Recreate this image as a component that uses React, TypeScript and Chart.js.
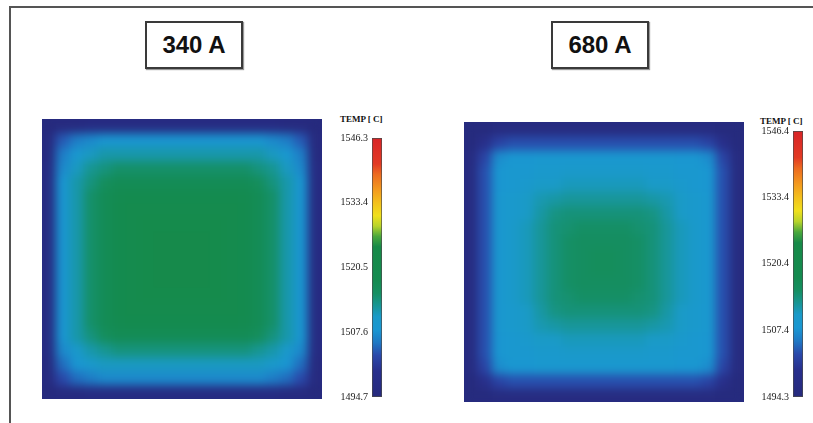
import React, { useEffect, useRef } from "react";
import { Chart, registerables } from "chart.js";

Chart.register(...registerables);

// ---------- data ----------
const PANEL_TITLES = ["340 A", "680 A"];
const COLORBAR_TITLE = "TEMP [ C]";

const LEFT_RANGE = [1494.7, 1546.3];
const RIGHT_RANGE = [1494.3, 1546.4];
const LEFT_TICKS = [1494.7, 1507.6, 1520.5, 1533.4, 1546.3];
const RIGHT_TICKS = [1494.3, 1507.4, 1520.4, 1533.4, 1546.4];

// temperature field, 340 A (rows top -> bottom, columns left -> right)
const LEFT_TEMPS: number[][] = [
  [1495,1496,1496,1497,1497,1497,1497,1497,1497,1497,1497,1497,1497,1497,1497,1497,1497,1496,1496,1495],
  [1496,1504,1506,1507,1508,1508,1508,1508,1508,1508,1508,1508,1508,1508,1508,1508,1507,1506,1504,1496],
  [1496,1506,1509,1511,1512,1512,1512,1512,1512,1512,1512,1512,1512,1512,1512,1512,1511,1509,1506,1496],
  [1497,1507,1511,1513,1514,1515,1515,1515,1515,1515,1515,1515,1515,1515,1515,1514,1513,1511,1507,1497],
  [1497,1508,1512,1514,1516,1517,1517,1517,1517,1517,1517,1517,1517,1517,1517,1516,1514,1512,1508,1497],
  [1497,1508,1512,1515,1517,1518,1519,1519,1519,1519,1519,1519,1519,1519,1518,1517,1515,1512,1508,1497],
  [1497,1508,1512,1515,1517,1519,1520,1520,1520,1520,1520,1520,1520,1520,1519,1517,1515,1512,1508,1497],
  [1497,1508,1512,1515,1517,1519,1520,1521,1521,1521,1521,1521,1521,1520,1519,1517,1515,1512,1508,1497],
  [1497,1508,1512,1515,1517,1519,1520,1521,1522,1522,1522,1522,1521,1520,1519,1517,1515,1512,1508,1497],
  [1497,1508,1512,1515,1517,1519,1520,1521,1522,1522,1522,1522,1521,1520,1519,1517,1515,1512,1508,1497],
  [1497,1508,1512,1515,1517,1519,1520,1521,1522,1522,1522,1522,1521,1520,1519,1517,1515,1512,1508,1497],
  [1497,1508,1512,1515,1517,1519,1520,1521,1522,1522,1522,1522,1521,1520,1519,1517,1515,1512,1508,1497],
  [1497,1508,1512,1515,1517,1519,1520,1521,1521,1521,1521,1521,1521,1520,1519,1517,1515,1512,1508,1497],
  [1497,1508,1512,1515,1517,1519,1520,1520,1520,1520,1520,1520,1520,1520,1519,1517,1515,1512,1508,1497],
  [1497,1508,1512,1515,1517,1518,1519,1519,1519,1519,1519,1519,1519,1519,1518,1517,1515,1512,1508,1497],
  [1497,1508,1512,1514,1516,1517,1517,1517,1517,1517,1517,1517,1517,1517,1517,1516,1514,1512,1508,1497],
  [1497,1507,1510,1512,1513,1514,1514,1514,1514,1514,1514,1514,1514,1514,1514,1513,1512,1510,1507,1497],
  [1496,1505,1508,1510,1511,1511,1511,1511,1511,1511,1511,1511,1511,1511,1511,1511,1510,1508,1505,1496],
  [1496,1503,1505,1506,1507,1507,1507,1507,1507,1507,1507,1507,1507,1507,1507,1507,1506,1505,1503,1496],
  [1495,1496,1496,1497,1497,1497,1497,1497,1497,1497,1497,1497,1497,1497,1497,1497,1497,1496,1496,1495],
];

// temperature field, 680 A
const RIGHT_TEMPS: number[][] = [
  [1495,1495,1496,1496,1496,1496,1496,1496,1496,1496,1496,1496,1496,1496,1496,1496,1496,1496,1495,1495],
  [1495,1499,1502,1503,1503,1503,1503,1503,1503,1503,1503,1503,1503,1503,1503,1503,1503,1502,1499,1495],
  [1496,1502,1507,1508,1508,1508.5,1508.5,1508.5,1508.5,1508.5,1508.5,1508.5,1508.5,1508.5,1508.5,1508,1508,1507,1502,1496],
  [1496,1503,1508,1508.5,1508.5,1509.5,1509.5,1510,1510,1510,1510,1510,1510,1509.5,1509.5,1508.5,1508.5,1508,1503,1496],
  [1496,1503,1508,1508.5,1509.5,1510.5,1510.5,1511,1511,1511,1511,1511,1511,1510.5,1510.5,1509.5,1508.5,1508,1503,1496],
  [1496,1503,1508.5,1509.5,1510.5,1511.5,1512,1512.5,1512.5,1512.5,1512.5,1512.5,1512.5,1512,1511.5,1510.5,1509.5,1508.5,1503,1496],
  [1496,1503,1508.5,1509.5,1510.5,1512,1513.5,1514,1514,1514,1514,1514,1514,1513.5,1512,1510.5,1509.5,1508.5,1503,1496],
  [1496,1503,1508.5,1510,1511,1512.5,1514,1514.5,1515,1515,1515,1515,1514.5,1514,1512.5,1511,1510,1508.5,1503,1496],
  [1496,1503,1508.5,1510,1511,1512.5,1514,1515,1515.5,1515.5,1515.5,1515.5,1515,1514,1512.5,1511,1510,1508.5,1503,1496],
  [1496,1503,1508.5,1510,1511,1512.5,1514,1515,1515.5,1516,1516,1515.5,1515,1514,1512.5,1511,1510,1508.5,1503,1496],
  [1496,1503,1508.5,1510,1511,1512.5,1514,1515,1515.5,1516,1516,1515.5,1515,1514,1512.5,1511,1510,1508.5,1503,1496],
  [1496,1503,1508.5,1510,1511,1512.5,1514,1515,1515.5,1515.5,1515.5,1515.5,1515,1514,1512.5,1511,1510,1508.5,1503,1496],
  [1496,1503,1508.5,1510,1511,1512.5,1514,1514.5,1515,1515,1515,1515,1514.5,1514,1512.5,1511,1510,1508.5,1503,1496],
  [1496,1503,1508.5,1509.5,1510.5,1512,1513.5,1514,1514,1514,1514,1514,1514,1513.5,1512,1510.5,1509.5,1508.5,1503,1496],
  [1496,1503,1508.5,1509.5,1510.5,1511.5,1512,1512.5,1512.5,1512.5,1512.5,1512.5,1512.5,1512,1511.5,1510.5,1509.5,1508.5,1503,1496],
  [1496,1503,1508,1508.5,1509.5,1510.5,1510.5,1511,1511,1511,1511,1511,1511,1510.5,1510.5,1509.5,1508.5,1508,1503,1496],
  [1496,1503,1508,1508.5,1508.5,1509.5,1509.5,1510,1510,1510,1510,1510,1510,1509.5,1509.5,1508.5,1508.5,1508,1503,1496],
  [1496,1502,1507,1508,1508,1508.5,1508.5,1508.5,1508.5,1508.5,1508.5,1508.5,1508.5,1508.5,1508.5,1508,1508,1507,1502,1496],
  [1495,1499,1502,1503,1503,1503,1503,1503,1503,1503,1503,1503,1503,1503,1503,1503,1503,1502,1499,1495],
  [1495,1495,1496,1496,1496,1496,1496,1496,1496,1496,1496,1496,1496,1496,1496,1496,1496,1496,1495,1495],
];

// ---------- colour map (style) ----------
const STOPS: [number, string][] = [
  [0.0, "#262a7c"],
  [0.1, "#282f8c"],
  [0.16, "#2a48aa"],
  [0.21, "#1f78c4"],
  [0.26, "#1a97d2"],
  [0.31, "#1a9ac8"],
  [0.36, "#17958c"],
  [0.4, "#158f62"],
  [0.45, "#148b50"],
  [0.58, "#178a48"],
  [0.62, "#4aa83c"],
  [0.66, "#b8d42a"],
  [0.7, "#f0e01c"],
  [0.75, "#f3c01c"],
  [0.8, "#f39a1e"],
  [0.86, "#ec6a20"],
  [0.9, "#e23a24"],
  [1.0, "#d82427"],
];

function hexRgb(h: string): number[] {
  return [1, 3, 5].map((i) => parseInt(h.slice(i, i + 2), 16));
}

function colorAt(t: number): string {
  const x = Math.max(0, Math.min(1, t));
  for (let i = 1; i < STOPS.length; i++) {
    if (x <= STOPS[i][0]) {
      const [t0, c0] = STOPS[i - 1];
      const [t1, c1] = STOPS[i];
      const f = (x - t0) / (t1 - t0 || 1);
      const a = hexRgb(c0);
      const b = hexRgb(c1);
      const m = a.map((v, k) => Math.round(v + (b[k] - v) * f));
      return `rgb(${m[0]},${m[1]},${m[2]})`;
    }
  }
  return STOPS[STOPS.length - 1][1];
}

const SERIF = "'Liberation Serif', 'DejaVu Serif', serif";

type HeatProps = { temps: number[][]; range: number[]; left: number; top: number; size: number };

function Heatmap({ temps, range, left, top, size }: HeatProps) {
  const ref = useRef<HTMLCanvasElement>(null);
  useEffect(() => {
    if (!ref.current) return;
    const n = temps.length;
    const labels = temps[0].map((_, i) => String(i));
    const datasets = temps.map((row, r) => ({
      data: row.map(() => [n - r - 1, n - r] as [number, number]),
      backgroundColor: row.map((v) => colorAt((v - range[0]) / (range[1] - range[0]))),
      borderWidth: 0,
      barPercentage: 1,
      categoryPercentage: 1,
      grouped: false,
    }));
    const chart = new Chart(ref.current, {
      type: "bar",
      data: { labels, datasets },
      options: {
        animation: false,
        responsive: false,
        events: [],
        layout: { padding: 0 },
        plugins: { legend: { display: false }, tooltip: { enabled: false }, title: { display: false } },
        scales: {
          x: { display: false, offset: true },
          y: { display: false, min: 0, max: n },
        },
      },
    });
    return () => chart.destroy();
  }, []);
  return (
    <div
      style={{
        position: "absolute",
        left,
        top,
        width: size,
        height: size,
        overflow: "hidden",
        background: colorAt(0.02),
      }}
    >
      <canvas
        ref={ref}
        width={size}
        height={size}
        style={{ display: "block", width: size, height: size, filter: "blur(5px)" }}
      />
    </div>
  );
}

type BarProps = {
  range: number[];
  ticks: number[];
  left: number;
  top: number;
  width: number;
  height: number;
  pad: number;
};

function ColorBar({ range, ticks, left, top, width, height, pad }: BarProps) {
  const ref = useRef<HTMLCanvasElement>(null);
  useEffect(() => {
    if (!ref.current) return;
    const chart = new Chart(ref.current, {
      type: "bar",
      data: {
        labels: [""],
        datasets: [
          {
            data: [[range[0], range[1]] as [number, number]],
            backgroundColor: (ctx: any) => {
              const a = ctx.chart.chartArea;
              if (!a) return "#148a4c";
              const g = ctx.chart.ctx.createLinearGradient(0, a.bottom, 0, a.top);
              STOPS.forEach(([t, c]) => g.addColorStop(t, c));
              return g;
            },
            borderColor: "#4a4a4a",
            borderWidth: 1,
            borderSkipped: false,
            barPercentage: 1,
            categoryPercentage: 1,
          },
        ],
      },
      options: {
        animation: false,
        responsive: false,
        events: [],
        layout: { padding: { top: pad, right: 2, bottom: pad, left: 0 } },
        plugins: { legend: { display: false }, tooltip: { enabled: false }, title: { display: false } },
        scales: {
          x: { display: false },
          y: {
            position: "left",
            min: range[0],
            max: range[1],
            grid: { display: false, drawTicks: false, tickLength: 0 },
            border: { display: false },
            afterBuildTicks: (s: any) => {
              s.ticks = ticks.map((v) => ({ value: v }));
            },
            afterFit: (s: any) => {
              s.width = 40;
            },
            ticks: {
              autoSkip: false,
              padding: 4,
              color: "#1a1a1a",
              font: { family: SERIF, size: 10 },
              callback: (v: any) => Number(v).toFixed(1),
            },
          },
        },
      },
    });
    return () => chart.destroy();
  }, []);
  return (
    <canvas
      ref={ref}
      width={width}
      height={height}
      style={{ position: "absolute", left, top, width, height }}
    />
  );
}

function BarTitle({ left, top }: { left: number; top: number }) {
  return (
    <div
      style={{
        position: "absolute",
        left,
        top,
        fontFamily: SERIF,
        fontWeight: "bold",
        fontSize: 9,
        lineHeight: "10px",
        color: "#111",
        whiteSpace: "pre",
      }}
    >
      {COLORBAR_TITLE}
    </div>
  );
}

function TitleBox({ text, left }: { text: string; left: number }) {
  return (
    <div
      style={{
        position: "absolute",
        left,
        top: 21,
        width: 98,
        height: 48,
        boxSizing: "border-box",
        border: "2px solid #3a3a3a",
        boxShadow: "1px 1px 1px #999",
        background: "#fff",
        display: "flex",
        alignItems: "center",
        justifyContent: "center",
        fontFamily: "'Liberation Sans', Arial, sans-serif",
        fontWeight: "bold",
        fontSize: 24,
        color: "#111",
      }}
    >
      {text}
    </div>
  );
}

export default function App() {
  useEffect(() => {
    document.body.style.margin = "0";
    document.body.style.overflow = "hidden";
  }, []);
  return (
    <div style={{ position: "relative", width: 813, height: 423, background: "#fff", overflow: "hidden" }}>
      {/* frame lines */}
      <div style={{ position: "absolute", left: 9, top: 6, width: 2, height: 417, background: "#555" }} />
      <div style={{ position: "absolute", left: 9, top: 6, width: 804, height: 2, background: "#555" }} />

      <TitleBox text={PANEL_TITLES[0]} left={145} />
      <TitleBox text={PANEL_TITLES[1]} left={551} />

      <Heatmap temps={LEFT_TEMPS} range={LEFT_RANGE} left={42} top={119} size={280} />
      <Heatmap temps={RIGHT_TEMPS} range={RIGHT_RANGE} left={464} top={122} size={280} />

      <BarTitle left={340} top={114} />
      <BarTitle left={760} top={116} />

      <ColorBar range={LEFT_RANGE} ticks={LEFT_TICKS} left={332} top={128} width={52} height={279} pad={10} />
      <ColorBar range={RIGHT_RANGE} ticks={RIGHT_TICKS} left={753} top={121} width={52} height={286} pad={10} />
    </div>
  );
}
